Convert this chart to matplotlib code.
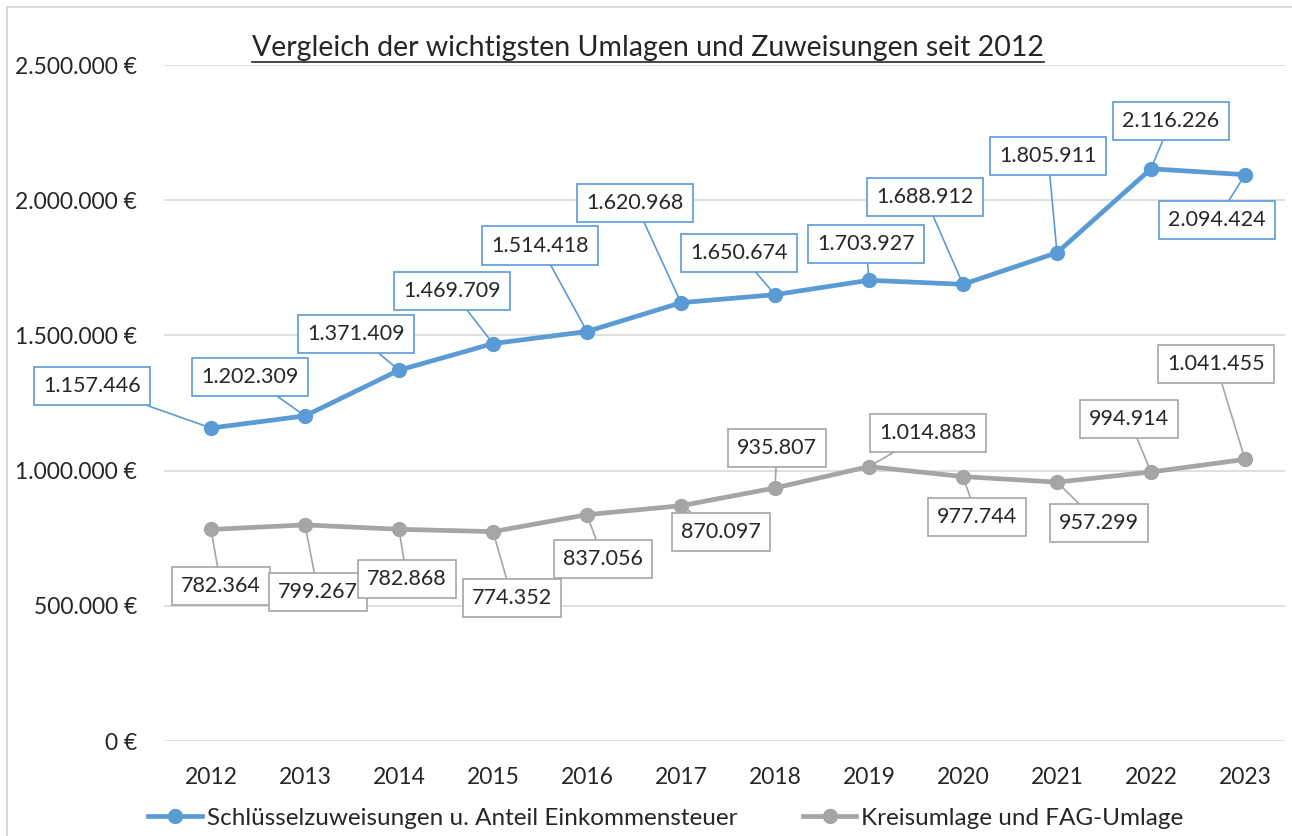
import matplotlib
matplotlib.use("Agg")
import matplotlib.pyplot as plt
from matplotlib.lines import Line2D
from matplotlib.patches import Rectangle

years = ["2012", "2013", "2014", "2015", "2016", "2017", "2018", "2019", "2020", "2021", "2022", "2023"]
schluessel = [1157446, 1202309, 1371409, 1469709, 1514418, 1620968, 1650674, 1703927, 1688912, 1805911, 2116226, 2094424]
kreisumlage = [782364, 799267, 782868, 774352, 837056, 870097, 935807, 1014883, 977744, 957299, 994914, 1041455]
series_names = ["Schlüsselzuweisungen u. Anteil Einkommensteuer", "Kreisumlage und FAG-Umlage"]
title = "Vergleich der wichtigsten Umlagen und Zuweisungen seit 2012"
yticks = [0, 500000, 1000000, 1500000, 2000000, 2500000]

# label offsets in pixels (dx, dy; dy positive = up)
blue_off = [(-119, 42), (-55, 39), (-43, 36), (-41, 53), (-47, 86), (-46, 100),
            (-36, 42), (-3, 36), (-38, 87), (-9, 97), (20, 48), (-28, -45)]
gray_off = [(10, -57), (13, -67), (8, -50), (19, -66), (16, -44), (40, -26),
            (2, 40), (59, 34), (14, -40), (42, -41), (-22, 53), (-29, 95)]

BLUE = "#5B9BD5"
GRAY = "#A5A5A5"
TXT = "#262626"
FONT = "Lato"
plt.rcParams["font.family"] = [FONT, "DejaVu Sans"]

W, H = 1292, 836
fig = plt.figure(figsize=(W / 100, H / 100), dpi=100)
ax_left, ax_right, ax_top, ax_bot = 164, 1285, 65, 741
ax = fig.add_axes([ax_left / W, 1 - ax_bot / H, (ax_right - ax_left) / W, (ax_bot - ax_top) / H])

x = list(range(len(years)))
step = 94.0
ax.set_xlim(-0.5, -0.5 + (ax_right - ax_left) / step)
ax.set_ylim(0, 2500000)

def fmt(v):
    return f"{v:,}".replace(",", ".")

ax.plot(x, schluessel, color=BLUE, lw=3.4, marker="o", ms=10, zorder=3, solid_capstyle="round")
ax.plot(x, kreisumlage, color=GRAY, lw=3.4, marker="o", ms=10, zorder=3, solid_capstyle="round")

for vals, offs, col in [(schluessel, blue_off, BLUE), (kreisumlage, gray_off, GRAY)]:
    for xi, v, (dx, dy) in zip(x, vals, offs):
        ax.annotate(fmt(v), xy=(xi, v), xytext=(dx, dy), textcoords="offset pixels",
                    ha="center", va="center", fontsize=15.5, color=TXT,
                    bbox=dict(boxstyle="square,pad=0.42", fc="white", ec=col, lw=1.2),
                    arrowprops=dict(arrowstyle="-", color=col, lw=1.2, shrinkA=0, shrinkB=4),
                    zorder=4)

ax.set_yticks(yticks)
ax.set_yticklabels([fmt(t) + " €" for t in yticks])
ax.set_xticks(x)
ax.set_xticklabels(years)
ax.tick_params(axis="y", length=0, pad=19.5, labelsize=16.5, labelcolor=TXT)
ax.tick_params(axis="x", length=0, pad=18.5, labelsize=16.5, labelcolor=TXT)
ax.grid(axis="y", color="#D9D9D9", lw=1.2)
ax.set_axisbelow(True)
for s in ax.spines.values():
    s.set_visible(False)

# chart border (top-left part visible)
fig.patches.append(Rectangle((7 / W, -0.1), 1.2, 1 - 7 / H + 0.1, transform=fig.transFigure,
                             fill=False, ec="#D9D9D9", lw=1.5))

t = fig.text(648 / W, 1 - 48 / H, title, ha="center", va="center", fontsize=20.5, color=TXT)

handles = [Line2D([], [], color=BLUE, lw=3.4, marker="o", ms=10),
           Line2D([], [], color=GRAY, lw=3.4, marker="o", ms=10)]
fig.legend(handles, series_names, loc="center", bbox_to_anchor=(666 / W, 1 - 818 / H),
           ncol=2, frameon=False, fontsize=17.5, labelcolor=TXT, handlelength=2.2,
           handletextpad=0.2, columnspacing=2.7)

fig.canvas.draw()
bb = t.get_window_extent()
uy = bb.y0 - 1
fig.add_artist(Line2D([bb.x0 / W, bb.x1 / W], [uy / H, uy / H], transform=fig.transFigure,
                      color=TXT, lw=1.2))

fig.savefig("out.png", dpi=100)
